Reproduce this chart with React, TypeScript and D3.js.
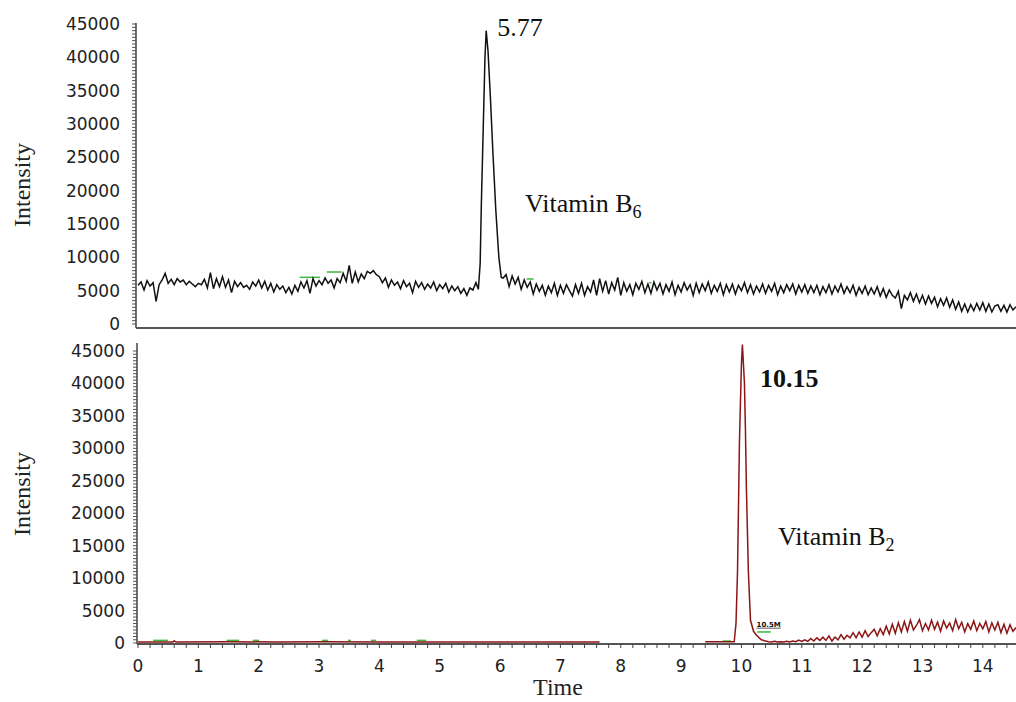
import React, { useEffect, useRef } from 'react';
import * as d3 from 'd3';

const intensityTicks = [0, 5000, 10000, 15000, 20000, 25000, 30000, 35000, 40000, 45000];
const timeTicks = [0, 1, 2, 3, 4, 5, 6, 7, 8, 9, 10, 11, 12, 13, 14];
const timeStep = 0.05;

// Vitamin B6 trace (top) – baseline sampled every 0.05 min
const b6Before = [
  5800, 6300, 5100, 6500, 5700, 6200, 3400, 5900, 6600, 7600,
  6100, 6700, 5900, 6800, 6300, 6600, 5900, 6400, 6000, 5600,
  6100, 5900, 6700, 5400, 7700, 5300, 6800, 5600, 7100, 5500,
  6600, 4700, 6400, 5600, 6200, 5500, 5800, 5200, 6300, 5700,
  6600, 5400, 6400, 5100, 6100, 4800, 5900, 5200, 5700, 4700,
  5500, 4500, 5800, 4900, 6300, 5400, 6500, 4600, 6800, 5700,
  6500, 5900, 6900, 6100, 6600, 5400, 6800, 6200, 7600, 6400,
  8800, 6100, 7800, 6300, 7500, 6800, 7900, 7600, 8000, 7400,
  7100, 6200, 6900, 5500, 6600, 5800, 6300, 5300, 6500, 5600,
  6100, 4700, 6400, 5500, 6200, 5200, 6000, 5400, 6300, 5000,
  5900, 5300, 6100, 4800, 5700, 5000, 5600, 4600, 5300, 4300,
  5400, 5100, 6200,
];
const b6Peak: [number, number][] = [
  [5.64, 5200], [5.67, 9000], [5.69, 18000], [5.72, 29000], [5.75, 40000],
  [5.77, 44000], [5.8, 41000], [5.84, 34000], [5.88, 26000], [5.93, 17000],
  [5.98, 10000], [6.02, 7000],
];
const b6After = [
  6900, 7400, 5600, 7200, 6000, 7000, 5200, 6600, 5500, 6300,
  4500, 6000, 4900, 5800, 4300, 5700, 4700, 6100, 4300, 5800,
  4600, 5900, 5000, 4200, 5900, 4600, 6100, 4300, 5600, 4800,
  6600, 4300, 6800, 4900, 6500, 4500, 6200, 5100, 7000, 4300,
  6200, 4900, 5900, 4400, 6100, 5200, 6400, 4700, 6000, 4600,
  6300, 5100, 6100, 4500, 5900, 4900, 6300, 4400, 5800, 4800,
  6200, 5100, 5900, 4300, 6100, 4700, 6000, 5000, 6300, 4600,
  5800, 4900, 6100, 4400, 5900, 4800, 6000, 4500, 5800, 5000,
  6200, 4700, 5900, 4500, 5700, 4800, 6000, 4600, 5800, 4900,
  6100, 4400, 5700, 4700, 5900, 5000, 6000, 4500, 5800, 4800,
  5900, 4600, 5700, 4700, 5800, 4400, 5600, 4700, 5900, 4500,
  5700, 4800, 6000, 4600, 5600, 4700, 5800, 4300, 5500, 4600,
  5700, 4400, 5400, 4500, 5600, 4200, 5300, 4000, 5100, 4300,
  3900, 4900, 2300, 4300, 3600, 4700, 3400, 4500, 3200, 4300,
  3000, 4200, 3100, 4000, 2600, 3800, 2800, 3900, 2500, 3600,
  2200, 3300, 1900, 3000, 1800, 2900, 2000, 3100, 2100, 3200,
  1900, 3000, 1800, 2700, 2900, 1900, 2800, 1800, 2900, 2100,
  2600,
];

// Vitamin B2 trace (bottom)
const b2Early: [number, number][] = [
  [0, 150], [0.58, 150], [0.6, 350], [0.63, 150], [1.5, 200], [2.3, 150],
  [3.1, 200], [4.0, 150], [5.4, 150], [6.5, 150], [7.65, 150],
];
const b2Peak: [number, number][] = [
  [9.4, 200], [9.88, 200], [9.91, 3000], [9.935, 11000], [9.967, 31000],
  [10.0, 43000], [10.016, 46000], [10.05, 40000], [10.066, 33000],
  [10.082, 24000], [10.115, 11000], [10.15, 3500], [10.2, 1800],
  [10.25, 1200], [10.33, 500],
];
const b2After = [
  300, 200, 150, 250, 150, 200, 150, 250, 150, 300,
  200, 450, 250, 500, 250, 700, 300, 800, 400, 900,
  400, 1100, 300, 900, 500, 1300, 600, 1200, 800, 1600,
  800, 1700, 900, 1900, 1000, 1600, 2100, 1100, 2200, 1300,
  2600, 1400, 2900, 1500, 3100, 1700, 3300, 1800, 3500, 2000,
  2700, 3600, 1900, 3000, 2000, 3500, 2100, 3200, 1800, 3400,
  2300, 3100, 1900, 3600, 2200, 3200, 1700, 3000, 2100, 3400,
  1900, 3000, 2200, 3300, 1700, 3100, 2000, 3200, 1600, 2900,
  1500, 2800, 1800, 2400,
];

// green integration marks: [start, end, intensity]
const b6Marks: [number, number, number][] = [
  [2.68, 3.0, 7000], [3.13, 3.36, 7800], [6.44, 6.54, 6750], [8.47, 8.49, 6200],
];
const b2Marks: [number, number, number][] = [
  [0.25, 0.48, 400], [1.47, 1.66, 400], [1.9, 1.99, 400], [3.05, 3.13, 400],
  [3.48, 3.51, 400], [3.86, 3.93, 400], [4.62, 4.76, 400], [9.69, 9.81, 300],
  [10.26, 10.47, 1700],
];

const sampled = (start: number, values: number[]): [number, number][] =>
  values.map((v, i) => [start + i * timeStep, v]);

const b6Series: ([number, number] | null)[] = [
  ...sampled(0, b6Before), ...b6Peak, ...sampled(6.05, b6After),
];
const b2Series: ([number, number] | null)[] = [
  ...b2Early, null, ...b2Peak, ...sampled(10.4, b2After),
];

const W = 1016;
const H = 702;
const sansFont = '"DejaVu Sans", Verdana, sans-serif';
const serifFont = '"Liberation Serif", "Times New Roman", serif';

const App = () => {
  const svgRef = useRef<SVGSVGElement>(null);

  useEffect(() => {
    document.body.style.margin = '0';
    const svg = d3.select(svgRef.current);
    svg.selectAll('*').remove();

    const x = d3.scaleLinear().domain([0, 14.55]).range([138, 1016]);

    const panels = [
      {
        id: 'top', series: b6Series, marks: b6Marks, color: '#111',
        yRange: [324, 24], axisX: 136, axisTop: 23, axisBottom: 328,
        labelX: 120, titleY: 185, showTimeAxis: false,
      },
      {
        id: 'bottom', series: b2Series, marks: b2Marks, color: '#8c1515',
        yRange: [643, 351], axisX: 137, axisTop: 343, axisBottom: 644,
        labelX: 125, titleY: 494, showTimeAxis: true,
      },
    ];

    panels.forEach((p) => {
      const y = d3.scaleLinear().domain([0, 45000]).range(p.yRange);
      const g = svg.append('g');

      g.append('clipPath').attr('id', `clip-${p.id}`)
        .append('rect')
        .attr('x', p.axisX + 1).attr('y', p.axisTop - 15)
        .attr('width', W - p.axisX).attr('height', p.axisBottom - p.axisTop + 14);

      // minor ticks on the intensity axis
      const minor = d3.range(0, 45001, 500);
      g.selectAll('.ymin').data(minor).enter().append('line')
        .attr('x1', p.axisX - 4).attr('x2', p.axisX)
        .attr('y1', (d) => y(d)).attr('y2', (d) => y(d))
        .attr('stroke', '#555').attr('stroke-width', 1);

      g.append('line')
        .attr('x1', p.axisX).attr('x2', p.axisX)
        .attr('y1', p.axisTop).attr('y2', p.axisBottom)
        .attr('stroke', '#444').attr('stroke-width', 1.5);
      g.append('line')
        .attr('x1', p.axisX).attr('x2', W)
        .attr('y1', p.axisBottom).attr('y2', p.axisBottom)
        .attr('stroke', '#555').attr('stroke-width', 1.8);

      g.selectAll('.ylab').data(intensityTicks).enter().append('text')
        .attr('x', p.labelX).attr('y', (d) => y(d) + 6)
        .attr('text-anchor', 'end')
        .style('font-family', sansFont).style('font-size', '17px')
        .attr('fill', '#222')
        .text((d) => d);

      g.append('text')
        .attr('transform', `translate(30,${p.titleY}) rotate(-90)`)
        .attr('text-anchor', 'middle')
        .style('font-family', serifFont).style('font-size', '24px')
        .attr('fill', '#222')
        .text('Intensity');

      if (p.showTimeAxis) {
        const xMinor = d3.range(0, 73).map((i) => i * 0.2);
        g.selectAll('.xmin').data(xMinor).enter().append('line')
          .attr('x1', (d) => x(d)).attr('x2', (d) => x(d))
          .attr('y1', p.axisBottom).attr('y2', p.axisBottom + 4)
          .attr('stroke', '#444').attr('stroke-width', 1);
        g.selectAll('.xlab').data(timeTicks).enter().append('text')
          .attr('x', (d) => x(d)).attr('y', 672)
          .attr('text-anchor', 'middle')
          .style('font-family', sansFont).style('font-size', '17px')
          .attr('fill', '#222')
          .text((d) => d);
      }

      const line = d3.line<[number, number] | null>()
        .defined((d) => d !== null)
        .x((d) => x(d![0]))
        .y((d) => y(d![1]));

      const plot = g.append('g').attr('clip-path', `url(#clip-${p.id})`);
      plot.selectAll('.mark').data(p.marks).enter().append('line')
        .attr('x1', (d) => x(d[0])).attr('x2', (d) => x(d[1]) + 1)
        .attr('y1', (d) => y(d[2])).attr('y2', (d) => y(d[2]))
        .attr('stroke', '#3cb83c').attr('stroke-width', 1.5);
      plot.append('path')
        .datum(p.series)
        .attr('d', line)
        .attr('fill', 'none')
        .attr('stroke', p.color)
        .attr('stroke-width', 1.5)
        .attr('stroke-linejoin', 'miter');
    });

    const yTop = d3.scaleLinear().domain([0, 45000]).range([324, 24]);
    const yBot = d3.scaleLinear().domain([0, 45000]).range([643, 351]);

    svg.append('text')
      .attr('x', 558).attr('y', 695).attr('text-anchor', 'middle')
      .style('font-family', serifFont).style('font-size', '24px')
      .attr('fill', '#222').text('Time');

    svg.append('text')
      .attr('x', x(5.77) + 11).attr('y', yTop(44000) + 5)
      .style('font-family', serifFont).style('font-size', '26px')
      .attr('fill', '#111').text('5.77');

    const b6Label = svg.append('text')
      .attr('x', 525).attr('y', 212)
      .style('font-family', serifFont).style('font-size', '26px')
      .attr('fill', '#111');
    b6Label.append('tspan').text('Vitamin B');
    b6Label.append('tspan').attr('dy', 6).style('font-size', '18px').text('6');

    svg.append('text')
      .attr('x', 760).attr('y', 387)
      .style('font-family', serifFont).style('font-size', '26px')
      .style('font-weight', 'bold')
      .attr('fill', '#111').text('10.15');

    const b2Label = svg.append('text')
      .attr('x', 778).attr('y', 545)
      .style('font-family', serifFont).style('font-size', '26px')
      .attr('fill', '#111');
    b2Label.append('tspan').text('Vitamin B');
    b2Label.append('tspan').attr('dy', 6).style('font-size', '18px').text('2');

    svg.append('text')
      .attr('x', x(10.25)).attr('y', yBot(2500))
      .style('font-family', sansFont).style('font-size', '7px')
      .style('font-weight', 'bold').style('text-decoration', 'underline')
      .attr('fill', '#111').text('10.5M');
  }, []);

  return (
    <svg
      ref={svgRef}
      width={W}
      height={H}
      style={{ position: 'absolute', left: 0, top: 0, background: '#fff' }}
    />
  );
};

export default App;
